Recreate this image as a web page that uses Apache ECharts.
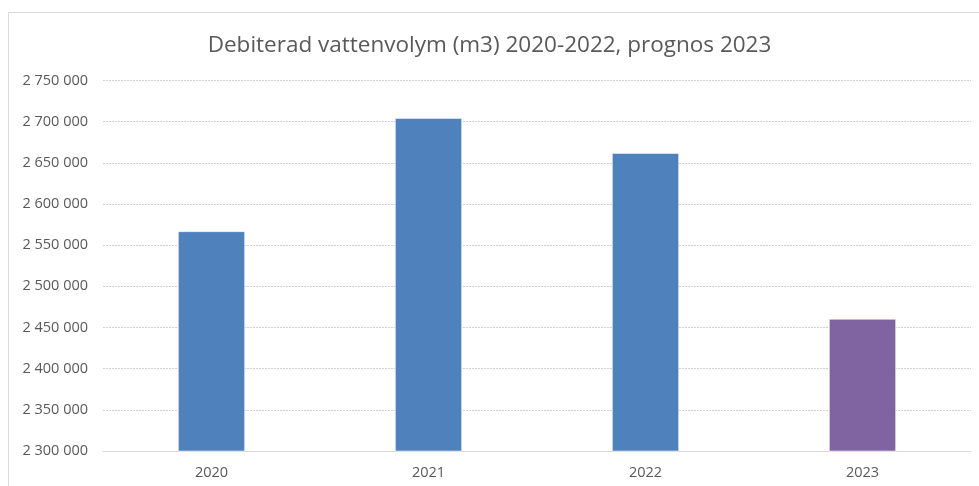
<!DOCTYPE html>
<html><head><meta charset="utf-8">
<script src="https://cdn.jsdelivr.net/npm/echarts@6/dist/echarts.min.js"></script>
<style>html,body{margin:0;padding:0;background:#fff}#c{width:979px;height:486px}</style>
</head><body><div id="c"></div>
<script>
const title = 'Debiterad vattenvolym (m3) 2020-2022, prognos 2023';
const categories = ['2020', '2021', '2022', '2023'];
const values = [2567000, 2704500, 2662000, 2460500];
const barColors = ['#4F81BD', '#4F81BD', '#4F81BD', '#8064A2'];
const yMin = 2300000, yMax = 2750000, yStep = 50000;

function fmt(v){ return String(v).replace(/\B(?=(\d{3})+(?!\d))/g, ' '); }

const chart = echarts.init(document.getElementById('c'), null, {renderer:'canvas'});
chart.setOption({
  animation:false,
  backgroundColor:'#fff',
  textStyle:{fontFamily:'"Open Sans", "Liberation Sans", sans-serif'},
  graphic:[{type:'rect', shape:{x:8.5,y:12.5,width:1000,height:500}, style:{fill:'none', stroke:'#d9d9d9', lineWidth:1}}],
  title:{text:title, left:'center', top:29, textStyle:{fontSize:22.5, fontWeight:'normal', color:'#595959', fontFamily:'"Open Sans", sans-serif'}},
  grid:{left:103, right:8, top:80.5, bottom:35, containLabel:false},
  xAxis:{type:'category', data:categories,
    axisLine:{lineStyle:{color:'#d9d9d9'}}, axisTick:{show:false},
    axisLabel:{color:'#595959', fontSize:14.5, margin:14}},
  yAxis:{type:'value', min:yMin, max:yMax, interval:yStep,
    axisLine:{show:false}, axisTick:{show:false},
    splitLine:{lineStyle:{color:'#d0d0d0', type:[2,1]}},
    axisLabel:{color:'#595959', fontSize:14.5, margin:15, formatter:fmt}},
  series:[{type:'bar', barWidth:'31%',
    data: values.map((v,i)=>({value:v, itemStyle:{color:barColors[i]}})),
    itemStyle:{borderColor:'rgba(255,255,255,0.5)', borderWidth:1}}]
});
</script></body></html>
